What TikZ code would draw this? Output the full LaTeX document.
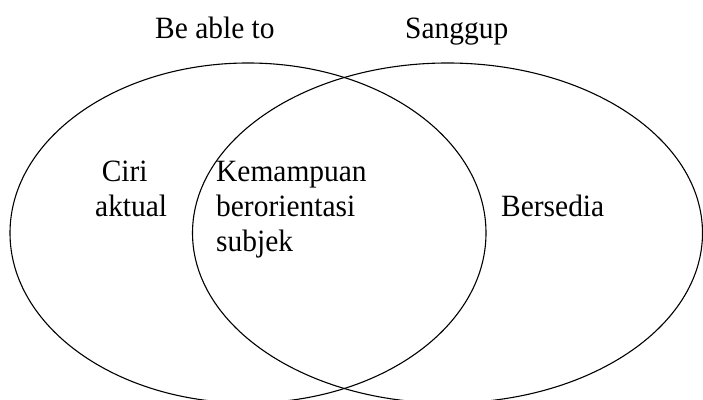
\documentclass[tikz,border=0pt]{standalone}
\usepackage{fontspec}
\setmainfont{Liberation Serif}
\usetikzlibrary{shapes.geometric}
\begin{document}
\begin{tikzpicture}[x=1pt,y=1pt,
  venn/.style={draw, ellipse, line width=1.1pt, inner sep=0pt},
  lbl/.style={inner sep=0pt, anchor=base west, align=left,
    font=\fontsize{31}{35}\selectfont, xscale=0.95}]
\clip (0,0) rectangle (703,399);
\fill[white] (0,0) rectangle (703,399);
\node[venn, minimum width=476pt, minimum height=340pt] (L) at (248,166) {};
\node[venn, minimum width=510pt, minimum height=340pt] (R) at (447.5,166) {};
\node[lbl] (beable) at (155,360) {Be able to};
\node[lbl] (sanggup) at (405,360) {Sanggup};
\node[lbl] (ciri) at (95,182) {\hspace*{7pt}Ciri\\aktual};
\node[lbl] (kemampuan) at (216,147) {Kemampuan\\berorientasi\\subjek};
\node[lbl] (bersedia) at (501,182) {Bersedia};
\end{tikzpicture}
\end{document}
